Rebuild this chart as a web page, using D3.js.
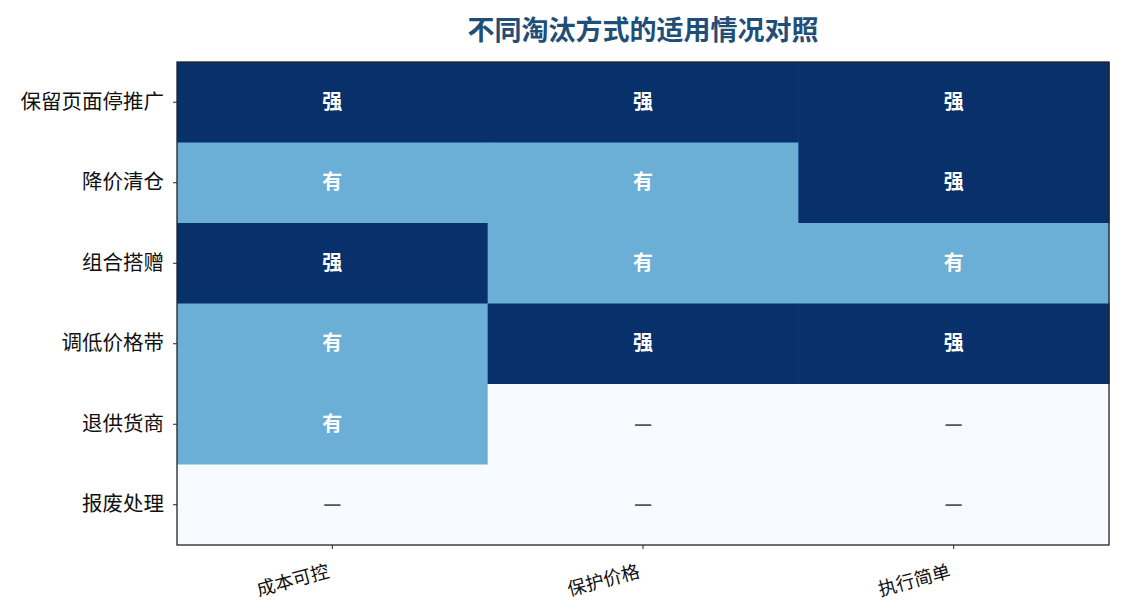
<!DOCTYPE html>
<html><head><meta charset="utf-8">
<script src="https://cdn.jsdelivr.net/npm/d3@7"></script>
<style>body{margin:0;background:#fff;} svg{font-family:"Noto Sans CJK SC","Noto Sans",sans-serif;}</style>
</head><body><svg id="c" width="1125" height="615"></svg>
<script>
const rows = ["保留页面停推广","降价清仓","组合搭赠","调低价格带","退供货商","报废处理"];
const cols = ["成本可控","保护价格","执行简单"];
const levels = [
  [2,2,2],
  [1,1,2],
  [2,1,1],
  [1,2,2],
  [1,0,0],
  [0,0,0]
];
const levelLabels = ["—","有","强"];
const title = "不同淘汰方式的适用情况对照";

const svg = d3.select("#c");
const m = {l:177, r:1109, t:62, b:545};
const x = d3.scaleBand().domain(cols).range([m.l, m.r]);
const y = d3.scaleBand().domain(rows).range([m.t, m.b]);
const color = d3.scaleOrdinal().domain([0,1,2]).range(["#f7fbff","#6baed6","#08306b"]);

const cells = [];
rows.forEach((r,i)=>cols.forEach((c,j)=>cells.push({r,c,v:levels[i][j]})));

svg.append("g").selectAll("rect").data(cells).join("rect")
  .attr("x",d=>x(d.c)).attr("y",d=>y(d.r))
  .attr("width",x.bandwidth()+0.6).attr("height",y.bandwidth()+0.6)
  .attr("fill",d=>color(d.v));

svg.append("g").selectAll("text").data(cells).join("text")
  .attr("x",d=>x(d.c)+x.bandwidth()/2).attr("y",d=>y(d.r)+y.bandwidth()/2-2)
  .attr("text-anchor","middle").attr("dominant-baseline","central")
  .attr("font-size",20).attr("font-weight","bold")
  .attr("fill",d=>d.v===0?"#555555":"#ffffff")
  .text(d=>levelLabels[d.v]);

svg.append("rect").attr("x",m.l).attr("y",m.t).attr("width",m.r-m.l).attr("height",m.b-m.t)
  .attr("fill","none").attr("stroke","#222").attr("stroke-width",1.3);

const yAxis = svg.append("g").attr("transform",`translate(${m.l},0)`).call(d3.axisLeft(y).tickSize(4).tickPadding(9));
yAxis.select(".domain").remove();
yAxis.selectAll("text").attr("font-size",20.5).attr("fill","#111").attr("font-family",'"Noto Sans CJK SC",sans-serif');
yAxis.selectAll("line").attr("stroke","#222");

const xAxis = svg.append("g").attr("transform",`translate(0,${m.b})`).call(d3.axisBottom(x).tickSize(4));
xAxis.select(".domain").remove();
xAxis.selectAll("line").attr("stroke","#222");
xAxis.selectAll("text").attr("font-size",18.5).attr("fill","#111")
  .attr("font-family",'"Noto Sans CJK SC",sans-serif')
  .attr("text-anchor","end").attr("dy",null).attr("y",null)
  .attr("transform","translate(-2,32) rotate(-15)");

svg.append("text").attr("x",(m.l+m.r)/2).attr("y",28).attr("text-anchor","middle")
  .attr("dominant-baseline","central")
  .attr("font-size",27).attr("font-weight","bold").attr("fill","#1f4e79").text(title);
</script></body></html>
